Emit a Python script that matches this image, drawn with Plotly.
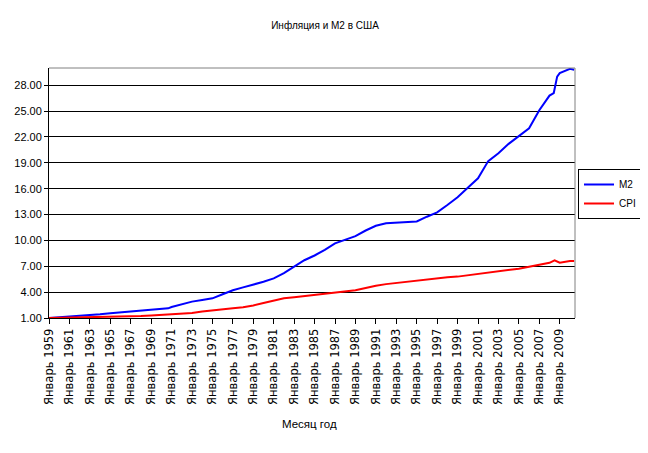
import plotly.graph_objects as go

# ---- data ----
m2_dates = ["1959-01", "1960-01", "1961-01", "1962-01", "1963-01", "1964-01", "1965-01",
            "1966-01", "1967-01", "1968-01", "1969-01", "1970-01", "1970-09", "1971-01",
            "1972-01", "1973-01", "1974-01", "1975-01", "1976-01", "1977-01", "1978-01",
            "1979-01", "1980-01", "1981-01", "1982-01", "1983-01", "1984-01", "1985-01",
            "1986-01", "1987-01", "1988-01", "1989-01", "1990-01", "1991-01", "1992-01",
            "1993-01", "1994-01", "1995-01", "1996-01", "1997-01", "1998-01", "1999-01",
            "2000-01", "2001-01", "2002-01", "2003-01", "2004-01", "2005-01", "2006-01",
            "2007-01", "2008-01", "2008-06", "2008-10", "2009-01", "2009-06", "2010-01",
            "2010-06"]
m2_values = [1.00, 1.08, 1.15, 1.22, 1.30, 1.43, 1.55,
             1.66, 1.78, 1.88, 2.00, 2.06, 2.12, 2.28,
             2.60, 2.90, 3.08, 3.28, 3.75, 4.22, 4.55,
             4.85, 5.20, 5.60, 6.20, 6.95, 7.70, 8.25,
             8.90, 9.65, 10.10, 10.50, 11.15, 11.70, 12.00,
             12.05, 12.10, 12.20, 12.75, 13.25, 14.10, 15.00,
             16.10, 17.20, 19.20, 20.10, 21.20, 22.10, 23.00,
             25.10, 26.80, 27.10, 29.00, 29.40, 29.60, 29.90,
             29.80]

cpi_dates = ["1959-01", "1961-01", "1963-01", "1964-01", "1966-01", "1968-01", "1969-01",
             "1970-01", "1971-01", "1972-01", "1973-01", "1974-01", "1975-01", "1976-01",
             "1977-01", "1978-01", "1979-01", "1980-01", "1981-01", "1982-01", "1983-01",
             "1984-01", "1985-01", "1986-01", "1987-01", "1988-01", "1989-01", "1990-01",
             "1991-01", "1992-01", "1993-01", "1994-01", "1995-01", "1996-01", "1997-01",
             "1998-01", "1999-01", "2000-01", "2001-01", "2002-01", "2003-01", "2004-01",
             "2005-01", "2006-01", "2007-01", "2008-01", "2008-07", "2009-01", "2010-01",
             "2010-06"]
cpi_values = [1.00, 1.03, 1.07, 1.10, 1.15, 1.22, 1.28,
              1.36, 1.45, 1.50, 1.58, 1.75, 1.90, 2.02,
              2.12, 2.25, 2.45, 2.75, 3.05, 3.30, 3.42,
              3.55, 3.75, 3.88, 3.95, 4.08, 4.22, 4.48,
              4.75, 4.93, 5.07, 5.20, 5.33, 5.48, 5.62,
              5.72, 5.80, 5.95, 6.15, 6.25, 6.38, 6.55,
              6.72, 6.95, 7.15, 7.40, 7.70, 7.42, 7.60,
              7.62]

tick_years = list(range(1959, 2010, 2))
tick_dates = [f"{y}-01-01" for y in tick_years]
tick_labels = [f"Январь {y}" for y in tick_years]
y_ticks = [1, 4, 7, 10, 13, 16, 19, 22, 25, 28]

title_text = "Инфляция и М2 в США"
x_title = "Месяц год"

FONT = "Liberation Sans, Arial, sans-serif"
XFONT = "DejaVu Sans, Liberation Sans, sans-serif"

# page body has an 8px default margin, so the figure is sized to the visible area
W, H = 640, 445

fig = go.Figure()
fig.add_trace(go.Scatter(x=m2_dates, y=m2_values, mode="lines", name="M2",
                         line=dict(color="#0000ff", width=2)))
fig.add_trace(go.Scatter(x=cpi_dates, y=cpi_values, mode="lines", name="CPI",
                         line=dict(color="#ff0000", width=2)))

fig.update_layout(
    width=W, height=H,
    margin=dict(l=41, r=73, t=60, b=135),
    paper_bgcolor="white", plot_bgcolor="white",
    font=dict(family=FONT, size=11, color="black"),
    title=dict(text=title_text, x=317 / W, xanchor="center", y=1 - 17 / H,
               yanchor="middle", yref="container", xref="container",
               font=dict(family=FONT, size=10, color="black")),
    showlegend=True,
    legend=dict(xref="container", yref="container", x=570 / W, y=1 - 186 / H,
                xanchor="left", yanchor="middle",
                bordercolor="black", borderwidth=1, bgcolor="white",
                font=dict(family=FONT, size=10, color="black"),
                itemwidth=30, tracegroupgap=0),
    xaxis=dict(type="date", range=["1959-01-01", "2010-07-01"], automargin=False,
               tickmode="array", tickvals=tick_dates, ticktext=tick_labels,
               tickangle=-90, ticks="outside", ticklen=5, tickcolor="black",
               showline=True, linecolor="black", linewidth=1,
               showgrid=False, zeroline=False,
               tickfont=dict(family=XFONT, size=11.5, color="black")),
    yaxis=dict(range=[1, 30], tickmode="array", tickvals=y_ticks, automargin=False,
               tickformat=".2f", ticks="outside", ticklen=4, tickcolor="black",
               showline=True, linecolor="black", linewidth=1,
               showgrid=True, gridcolor="black", gridwidth=1, zeroline=False,
               tickfont=dict(family=FONT, size=11, color="black")),
    annotations=[dict(text=x_title, xref="paper", yref="paper",
                      x=0.496, y=-0.424, xanchor="center", yanchor="middle",
                      showarrow=False, font=dict(family=FONT, size=11.5, color="black"))],
    shapes=[
        dict(type="line", xref="paper", yref="paper", x0=0, x1=1, y0=1, y1=1,
             line=dict(color="#808080", width=1)),
        dict(type="line", xref="paper", yref="paper", x0=1, x1=1, y0=0, y1=1,
             line=dict(color="#808080", width=1)),
    ],
)

fig.write_html("out.html")
